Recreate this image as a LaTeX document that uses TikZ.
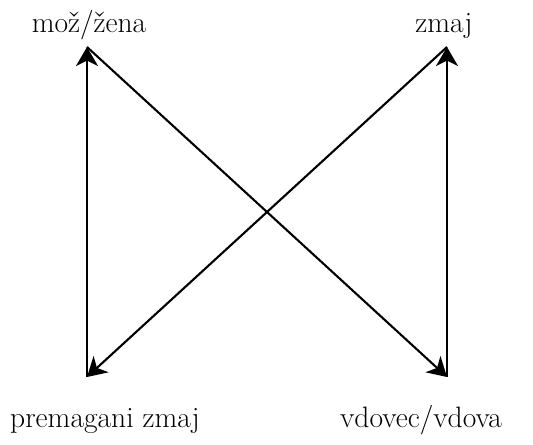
\documentclass[tikz,border=0pt]{standalone}
\usetikzlibrary{arrows.meta}

\begin{document}
\begin{tikzpicture}[
  lbl/.style={font=\fontsize{16.8}{20}\selectfont, inner sep=0pt, anchor=base},
  flow/.style={-{Stealth[length=0.38cm, width=0.44cm, inset=0.11cm]}, line width=1.2pt}
]
\useasboundingbox (0,0) rectangle (10.66,8.88);

% corners
\coordinate (tl) at (1.74,7.94);
\coordinate (tr) at (8.94,7.94);
\coordinate (bl) at (1.74,1.34);
\coordinate (br) at (8.94,1.34);

% labels
\node[lbl] (zena) at (1.78,8.24) {mož/žena};
\node[lbl] (zmaj) at (8.88,8.24) {zmaj};
\node[lbl] (premagani) at (2.10,0.34) {premagani zmaj};
\node[lbl] (vdova) at (8.42,0.34) {vdovec/vdova};

\draw[flow] (bl) -- (tl);
\draw[flow] (tl) -- (br);
\draw[flow] (br) -- (tr);
\draw[flow] (tr) -- (bl);

\end{tikzpicture}
\end{document}
